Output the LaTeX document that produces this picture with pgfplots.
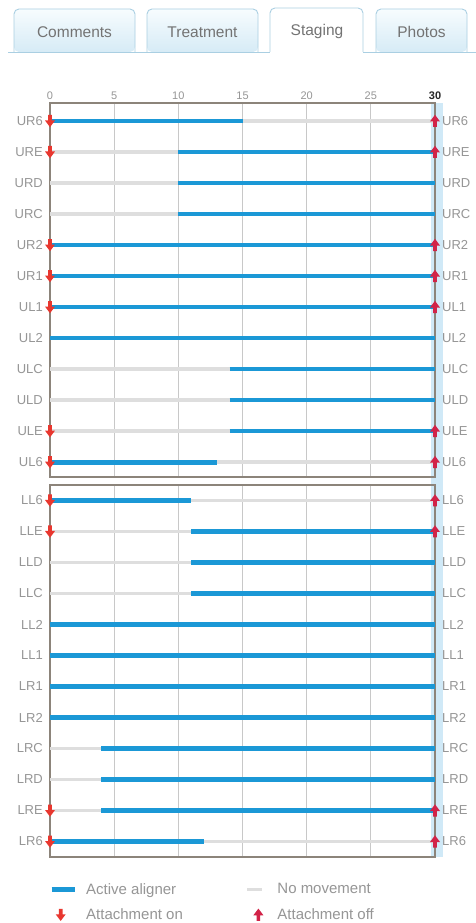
\documentclass[border=0pt]{standalone}
\usepackage{pgfplots}
\pgfplotsset{compat=1.18}
\usepackage{pgfplotstable}
\usepackage{fontspec}
\setmainfont{Liberation Sans}

\definecolor{active}{RGB}{27,152,214}
\definecolor{nomove}{RGB}{222,222,222}
\definecolor{attOn}{RGB}{232,55,47}
\definecolor{attOff}{RGB}{210,35,72}
\definecolor{framec}{RGB}{140,132,122}
\definecolor{gridc}{RGB}{200,200,200}
\definecolor{labelc}{RGB}{150,150,150}
\definecolor{band}{RGB}{208,233,247}
\definecolor{tabline}{RGB}{170,207,226}
\definecolor{tabtop}{RGB}{247,252,254}
\definecolor{tabbot}{RGB}{214,235,246}
\definecolor{tabtext}{RGB}{115,115,115}

\pgfdeclareplotmark{dnarrow}{%
  \pgfpathmoveto{\pgfqpoint{-1.8bp}{6bp}}%
  \pgfpathlineto{\pgfqpoint{1.8bp}{6bp}}%
  \pgfpathlineto{\pgfqpoint{1.8bp}{0.5bp}}%
  \pgfpathlineto{\pgfqpoint{5bp}{0.5bp}}%
  \pgfpathlineto{\pgfqpoint{0bp}{-6.2bp}}%
  \pgfpathlineto{\pgfqpoint{-5bp}{0.5bp}}%
  \pgfpathlineto{\pgfqpoint{-1.8bp}{0.5bp}}%
  \pgfpathclose\pgfusepathqfill}
\pgfdeclareplotmark{uparrow}{%
  \pgfpathmoveto{\pgfqpoint{-1.8bp}{-6bp}}%
  \pgfpathlineto{\pgfqpoint{1.8bp}{-6bp}}%
  \pgfpathlineto{\pgfqpoint{1.8bp}{-0.5bp}}%
  \pgfpathlineto{\pgfqpoint{5bp}{-0.5bp}}%
  \pgfpathlineto{\pgfqpoint{0bp}{6.2bp}}%
  \pgfpathlineto{\pgfqpoint{-5bp}{-0.5bp}}%
  \pgfpathlineto{\pgfqpoint{-1.8bp}{-0.5bp}}%
  \pgfpathclose\pgfusepathqfill}

% upper arch: UR6 ... UL6
\pgfplotstableread{
row x0 len
1  0 15
2 10 20
3 10 20
4 10 20
5  0 30
6  0 30
7  0 30
8  0 30
9 14 16
10 14 16
11 14 16
12  0 13
}\upperactive
\pgfplotstableread{
row x0 len
1 0 30
2 0 30
3 0 30
4 0 30
9 0 30
10 0 30
11 0 30
12 0 30
}\uppernomove
\pgfplotstableread{
row on off
1 0 30
2 0 30
5 0 30
6 0 30
7 0 30
11 0 30
12 0 30
}\upperattach

% lower arch: LL6 ... LR6
\pgfplotstableread{
row x0 len
1  0 11
2 11 19
3 11 19
4 11 19
5  0 30
6  0 30
7  0 30
8  0 30
9  4 26
10  4 26
11  4 26
12  0 12
}\loweractive
\pgfplotstableread{
row x0 len
1 0 30
2 0 30
3 0 30
4 0 30
9 0 30
10 0 30
11 0 30
12 0 30
}\lowernomove
\pgfplotstableread{
row on off
1 0 30
2 0 30
11 0 30
12 0 30
}\lowerattach

\pgfplotsset{
  stage/.style={
    width=385bp, scale only axis, xmin=0, xmax=30, y dir=reverse,
    axis line style={draw=framec, line width=1.3bp},
    xtick={0,5,10,15,20,25,30}, xmajorgrids,
    grid style={draw=gridc, line width=0.8bp},
    major tick length=0pt, ytick={1,...,12},
    yticklabel style={font=\fontsize{13bp}{13bp}\selectfont, text=labelc,
      inner sep=0pt, xshift=-7bp},
    clip=false, unbounded coords=jump,
  },
  labelsright/.style={
    width=385bp, scale only axis, xmin=0, xmax=30, y dir=reverse,
    axis line style={draw=none}, xtick=\empty, major tick length=0pt,
    ytick={1,...,12}, yticklabel pos=right,
    yticklabel style={font=\fontsize{13bp}{13bp}\selectfont, text=labelc,
      inner sep=0pt, xshift=7bp},
  },
  activebar/.style={draw=active, line width=4.8bp, -, forget plot,
    quiver={u=\thisrow{len}, v=0}},
  nomovebar/.style={draw=nomove, line width=3.5bp, -, forget plot,
    quiver={u=\thisrow{len}, v=0}},
}

\begin{document}
\begin{tikzpicture}[x=1bp, y=1bp]
\useasboundingbox[fill=white] (0,0) rectangle (476,923);

% tabs
\foreach \a/\b/\t in {14/135/Comments, 147/258/Treatment, 376/467/Photos}{
  \shade[top color=tabtop, bottom color=tabbot, rounded corners=5bp]
    (\a,871) -- (\a,914) -- (\b,914) -- (\b,871) -- cycle;
  \draw[tabline, line width=0.9bp, rounded corners=5bp]
    (\a,871) -- (\a,914) -- (\b,914) -- (\b,871);
  \node[text=tabtext, font=\fontsize{15.5bp}{15.5bp}\selectfont] at ({(\a+\b)/2},891) {\t};
}
\draw[tabline, line width=0.9bp, rounded corners=5bp, fill=white]
  (270,871) -- (270,915) -- (363,915) -- (363,871);
\node[text=tabtext, font=\fontsize{15.5bp}{15.5bp}\selectfont] at (317,891) {Staging};
\draw[tabline, line width=0.9bp] (8,871) -- (270,871) (363,871) -- (476,871);

% current-stage band
\fill[band] (431,66) rectangle (443,820);

\begin{axis}[stage, at={(50bp,820bp)}, anchor=north west, height=374bp,
  ymin=0.42, ymax=12.48,
  yticklabels={UR6,URE,URD,URC,UR2,UR1,UL1,UL2,ULC,ULD,ULE,UL6},
  xticklabel pos=right,
  xticklabels={0,5,10,15,20,25,{\color{black!85}\textbf{30}}},
  xticklabel style={font=\fontsize{11bp}{11bp}\selectfont, text=labelc,
    inner sep=0pt, yshift=3bp},
]
\addplot[nomovebar] table[x=x0, y=row]{\uppernomove};
\addplot[activebar] table[x=x0, y=row]{\upperactive};
\addplot[only marks, mark=dnarrow, color=attOn, forget plot] table[x=on, y=row]{\upperattach};
\addplot[only marks, mark=uparrow, color=attOff, forget plot] table[x=off, y=row]{\upperattach};
\end{axis}
\begin{axis}[labelsright, at={(50bp,820bp)}, anchor=north west, height=374bp,
  ymin=0.42, ymax=12.48,
  yticklabels={UR6,URE,URD,URC,UR2,UR1,UL1,UL2,ULC,ULD,ULE,UL6}]
\end{axis}

\begin{axis}[stage, at={(50bp,438bp)}, anchor=north west, height=372bp,
  ymin=0.5, ymax=12.5, xticklabels=\empty,
  yticklabels={LL6,LLE,LLD,LLC,LL2,LL1,LR1,LR2,LRC,LRD,LRE,LR6},
  legend columns=2,
  legend cell align=left,
  legend style={draw=none, fill=none, at={(0,0)}, anchor=north west,
    xshift=-1bp, yshift=-26bp, inner sep=0pt,
    font=\fontsize{15bp}{15bp}\selectfont, text=labelc,
    nodes={inner sep=0pt}, row sep=13bp,
    /tikz/column 1/.style={column sep=9bp},
    /tikz/column 2/.style={column sep=63bp},
    /tikz/column 3/.style={column sep=9bp}},
]
\addplot[nomovebar] table[x=x0, y=row]{\lowernomove};
\addplot[activebar] table[x=x0, y=row]{\loweractive};
\addplot[only marks, mark=dnarrow, color=attOn, forget plot] table[x=on, y=row]{\lowerattach};
\addplot[only marks, mark=uparrow, color=attOff, forget plot] table[x=off, y=row]{\lowerattach};

\addlegendimage{legend image code/.code={
  \path[draw=none, fill=none] (0bp,-3bp) rectangle (23bp,3bp);
  \draw[active, line width=5bp] (0bp,0bp) -- (23bp,0bp);}}
\addlegendentry{Active aligner}
\addlegendimage{legend image code/.code={
  \path[draw=none, fill=none] (0bp,-3bp) rectangle (21bp,3bp);
  \draw[nomove, line width=3bp] (0bp,0bp) -- (15bp,0bp);}}
\addlegendentry{No movement}
\addlegendimage{legend image code/.code={
  \path[draw=none, fill=none] (0bp,-3bp) rectangle (23bp,3bp);
  \path[draw=none, fill=attOn] plot[only marks, mark=dnarrow] coordinates {(9bp,0bp)};}}
\addlegendentry{Attachment on}
\addlegendimage{legend image code/.code={
  \path[draw=none, fill=none] (0bp,-3bp) rectangle (21bp,3bp);
  \path[draw=none, fill=attOff] plot[only marks, mark=uparrow] coordinates {(11bp,0bp)};}}
\addlegendentry{Attachment off}
\end{axis}
\begin{axis}[labelsright, at={(50bp,438bp)}, anchor=north west, height=372bp,
  ymin=0.5, ymax=12.5,
  yticklabels={LL6,LLE,LLD,LLC,LL2,LL1,LR1,LR2,LRC,LRD,LRE,LR6}]
\end{axis}
\end{tikzpicture}
\end{document}
